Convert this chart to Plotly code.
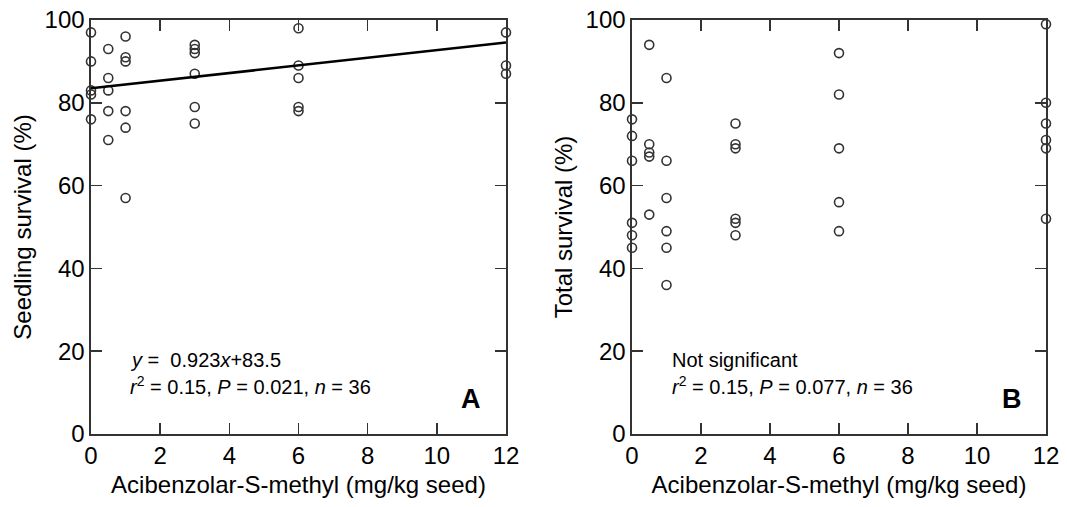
import plotly.graph_objects as go

# ---- data ----
doses = [0, 0.5, 1, 3, 6, 12]

seedling_x = ([0]*5 + [0.5]*5 + [1]*6 + [3]*6 + [6]*5 + [12]*3)
seedling_y = ([97, 90, 83, 82, 76] +
              [93, 86, 83, 78, 71] +
              [96, 91, 90, 78, 74, 57] +
              [94, 93, 92, 87, 79, 75] +
              [98, 89, 86, 79, 78] +
              [97, 89, 87])

total_x = ([0]*6 + [0.5]*5 + [1]*6 + [3]*6 + [6]*5 + [12]*6)
total_y = ([76, 72, 66, 51, 48, 45] +
           [94, 70, 68, 67, 53] +
           [86, 66, 57, 49, 45, 36] +
           [75, 70, 69, 52, 51, 48] +
           [92, 82, 69, 56, 49] +
           [99, 80, 75, 71, 69, 52])

slope, intercept = 0.923, 83.5
fit_x = [0, 12]
fit_y = [intercept + slope * v for v in fit_x]

x_ticks = [0, 2, 4, 6, 8, 10, 12]
y_ticks = [0, 20, 40, 60, 80, 100]

W, H = 1067, 507
FONT = "Liberation Sans, Arial, sans-serif"
AX = "#333333"

fig = go.Figure()

marker = dict(symbol="circle-open", size=9, color=AX, line=dict(width=1.6, color=AX))

fig.add_trace(go.Scatter(x=seedling_x, y=seedling_y, mode="markers", marker=marker,
                         cliponaxis=False, xaxis="x", yaxis="y", showlegend=False))
fig.add_trace(go.Scatter(x=fit_x, y=fit_y, mode="lines", line=dict(color="black", width=2.6),
                         cliponaxis=False, xaxis="x", yaxis="y", showlegend=False))
fig.add_trace(go.Scatter(x=total_x, y=total_y, mode="markers", marker=marker,
                         cliponaxis=False, xaxis="x2", yaxis="y2", showlegend=False))

def fx(px):
    return px / W

def fy(py):
    return 1 - py / H

ydom = [fy(434), fy(20)]
xdomA = [fx(91), fx(506)]
xdomB = [fx(632), fx(1046)]

axis_common = dict(showline=True, linecolor=AX, linewidth=1.6, mirror="ticks",
                   ticks="inside", ticklen=11, tickwidth=1.6, tickcolor=AX,
                   showgrid=False, zeroline=False, automargin=False,
                   ticklabeloverflow="allow",
                   tickfont=dict(size=24, color="black", family=FONT))

xtitle = "Acibenzolar-S-methyl (mg/kg seed)"

fig.update_layout(
    width=W, height=H,
    margin=dict(l=0, r=0, t=0, b=0),
    paper_bgcolor="white", plot_bgcolor="white",
    font=dict(family=FONT, color="black"),
    xaxis=dict(domain=xdomA, range=[0, 12], tickvals=x_ticks, anchor="y",
               title=dict(text=xtitle, font=dict(size=24), standoff=8), **axis_common),
    yaxis=dict(domain=ydom, range=[0, 100], tickvals=y_ticks, anchor="x",
               title=dict(text="Seedling survival (%)", font=dict(size=24), standoff=6), **axis_common),
    xaxis2=dict(domain=xdomB, range=[0, 12], tickvals=x_ticks, anchor="y2",
                title=dict(text=xtitle, font=dict(size=24), standoff=8), **axis_common),
    yaxis2=dict(domain=ydom, range=[0, 100], tickvals=y_ticks, anchor="x2",
                title=dict(text="Total survival (%)", font=dict(size=24), standoff=6), **axis_common),
)

ann_font = dict(size=20, color="black", family=FONT)
fig.add_annotation(xref="x", yref="y", x=1.07, y=17.8, xanchor="left", yanchor="middle",
                   text="<i>y</i> =  0.923<i>x</i>+83.5", showarrow=False, font=ann_font)
fig.add_annotation(xref="x", yref="y", x=1.07, y=11.8, xanchor="left", yanchor="middle",
                   text="<i>r</i><sup>2</sup> = 0.15, <i>P</i> = 0.021, <i>n</i> = 36",
                   showarrow=False, font=ann_font)
fig.add_annotation(xref="x", yref="y", x=11.0, y=8.5, xanchor="center", yanchor="middle",
                   text="<b>A</b>", showarrow=False, font=dict(size=27, color="black", family=FONT))

fig.add_annotation(xref="x2", yref="y2", x=1.1, y=17.8, xanchor="left", yanchor="middle",
                   text="Not significant", showarrow=False, font=ann_font)
fig.add_annotation(xref="x2", yref="y2", x=1.1, y=11.8, xanchor="left", yanchor="middle",
                   text="<i>r</i><sup>2</sup> = 0.15, <i>P</i> = 0.077, <i>n</i> = 36",
                   showarrow=False, font=ann_font)
fig.add_annotation(xref="x2", yref="y2", x=11.0, y=8.5, xanchor="center", yanchor="middle",
                   text="<b>B</b>", showarrow=False, font=dict(size=27, color="black", family=FONT))

# remove the default page margin so the 1067x507 figure fills the window exactly
fig.write_html("out.html",
               config={"displayModeBar": False, "staticPlot": True},
               post_script="document.body.style.margin='0';document.body.style.overflow='hidden';")
